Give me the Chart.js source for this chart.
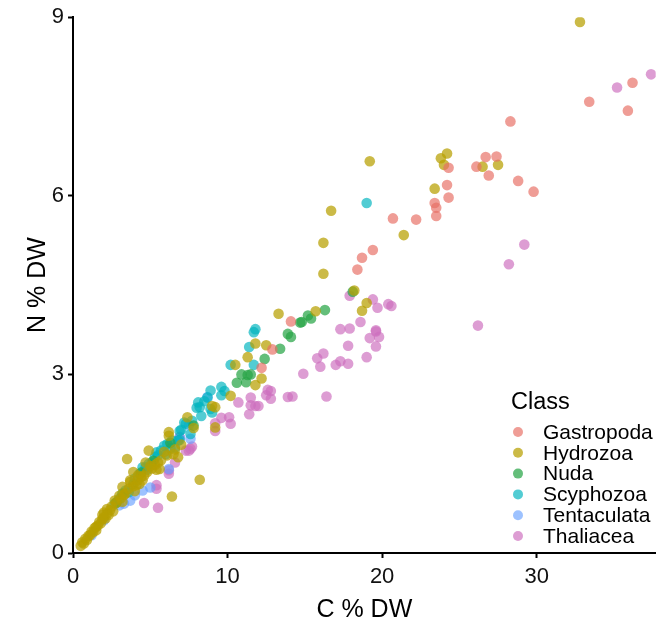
<!DOCTYPE html>
<html>
<head>
<meta charset="utf-8">
<script src="https://cdn.jsdelivr.net/npm/chart.js@4"></script>
<style>
  body { margin: 0; background: #fff; }
  canvas { display: block; }
</style>
</head>
<body>
<canvas id="cnChart" width="661" height="625"></canvas>
<script>
// values (C % DW, N % DW)
const classes = ["Gastropoda", "Hydrozoa", "Nuda", "Scyphozoa", "Tentaculata", "Thaliacea"]

const gastroX = [36.2, 33.4, 35.9, 28.3, 24.3, 26.7, 27.4, 26.1, 26.9, 28.8, 29.8, 24.2, 24.3, 23.4, 23.5, 23.5, 20.7, 22.2, 19.4, 18.7, 18.4, 14.1, 12.9, 12.2]
const gastroY = [7.90, 7.58, 7.43, 7.25, 6.47, 6.65, 6.66, 6.49, 6.34, 6.25, 6.07, 6.18, 5.97, 5.88, 5.80, 5.66, 5.62, 5.60, 5.09, 4.96, 4.76, 3.89, 3.42, 3.11]

const hydroX = [32.8, 19.2, 24.2, 23.8, 24.0, 26.5, 27.5, 23.4, 16.7, 21.4, 16.2, 16.2, 18.2, 19.0, 18.7, 15.7, 13.3, 12.5, 12.2, 11.8, 11.3, 10.5, 11.8, 10.2, 9.2, 9.0, 7.4, 7.8, 9.2, 6.2, 6.2, 4.9, 4.7, 5.5, 5.6, 6.5, 6.8, 8.2, 3.5, 6.4, 4.2, 4.5, 4.1, 3.7, 3.9, 3.2, 3.7,
  0.5, 0.6, 0.7, 0.8, 0.9, 1.0, 1.1, 1.2, 1.3, 1.4, 1.5, 1.6, 1.7, 1.8, 1.9, 2.0, 2.1, 2.2, 2.3, 2.4, 2.2, 2.5, 2.0, 1.9, 2.6, 2.8, 3.1, 3.4, 3.6, 3.9, 4.2, 4.4, 4.8, 5.1, 5.3, 5.7, 6.1, 4.0, 3.2, 1.5,
  2.7, 3.0, 3.3, 4.6, 5.0, 5.4, 5.9, 6.6, 7.0, 4.3]
const hydroY = [8.92, 6.58, 6.71, 6.63, 6.52, 6.49, 6.52, 6.12, 5.75, 5.34, 5.21, 4.69, 4.41, 4.20, 4.07, 4.06, 4.02, 3.49, 2.93, 3.52, 3.29, 3.16, 2.82, 2.64, 2.45, 2.47, 2.28, 2.10, 2.11, 2.03, 1.97, 1.72, 1.52, 1.52, 1.41, 1.66, 1.61, 1.23, 1.58, 0.95, 1.30, 1.22, 1.14, 1.19, 1.36, 1.11, 1.22,
  0.12, 0.18, 0.16, 0.24, 0.22, 0.29, 0.30, 0.36, 0.35, 0.42, 0.44, 0.46, 0.52, 0.50, 0.57, 0.60, 0.58, 0.66, 0.64, 0.72, 0.74, 0.78, 0.68, 0.64, 0.70, 0.84, 0.92, 1.00, 1.08, 1.12, 1.22, 1.28, 1.36, 1.42, 1.48, 1.56, 1.64, 1.04, 0.86, 0.38,
  0.88, 0.96, 0.98, 1.30, 1.46, 1.40, 1.70, 1.74, 1.82, 1.16]

const nudaX = [18.1, 16.3, 15.2, 15.4, 14.7, 14.8, 13.9, 14.1, 13.4, 12.4, 10.9, 11.5, 11.2, 10.6, 11.3, 7.8, 3.2, 5.2, 4.4, 2.8, 6.3]
const nudaY = [4.39, 4.08, 3.99, 3.94, 3.87, 3.88, 3.68, 3.63, 3.43, 3.26, 3.00, 3.00, 2.87, 2.86, 2.99, 2.14, 1.00, 1.55, 1.35, 0.85, 1.85]

const scyphoX = [19.0, 11.8, 11.7, 11.4, 10.2, 11.7, 9.6, 8.9, 9.8, 9.6, 8.7, 8.1, 8.0, 8.9, 9.0, 8.2, 8.3, 7.7, 7.2, 7.0, 6.9, 6.4, 6.1, 5.9, 6.6, 5.4, 5.3, 4.9, 4.5, 6.0, 5.5, 4.7, 4.3, 3.9, 3.4, 3.0, 2.7, 7.3, 6.9, 6.8, 7.6, 8.5,
  4.0, 4.8, 5.1, 5.7, 6.3, 3.6]
const scyphoY = [5.88, 3.76, 3.71, 3.46, 3.16, 3.16, 2.79, 2.73, 2.72, 2.65, 2.61, 2.53, 2.44, 2.42, 2.36, 2.45, 2.30, 2.22, 2.19, 2.07, 1.90, 1.89, 1.83, 1.80, 1.77, 1.69, 1.61, 1.50, 1.44, 1.66, 1.64, 1.44, 1.33, 1.16, 1.05, 0.91, 0.83, 2.17, 2.05, 1.89, 2.00, 2.55,
  1.25, 1.40, 1.52, 1.72, 1.76, 1.02]

const tentaX = [8.7, 6.9, 7.6, 6.2, 3.0, 3.3, 3.7, 4.0, 7.5, 5.0, 2.0, 1.2, 4.5]
const tentaY = [2.62, 1.94, 1.92, 1.41, 0.80, 0.83, 0.88, 0.97, 2.15, 1.10, 0.55, 0.30, 1.05]

const thaliX = [37.4, 35.2, 29.2, 28.2, 26.2, 17.9, 19.4, 19.7, 20.4, 20.6, 18.6, 19.6, 17.3, 17.9, 19.6, 19.2, 19.8, 19.6, 19.0, 17.8, 16.2, 15.8, 16.0, 17.3, 17.0, 17.8, 14.9, 16.4, 13.9, 14.2, 12.6, 12.8, 12.5, 12.8, 12.0, 10.7, 11.5, 11.5, 11.8, 11.4, 9.6, 10.1, 9.2, 9.2, 10.2, 6.9, 7.7, 7.5, 7.3, 7.6, 6.6, 6.2, 5.4, 5.4, 4.6, 5.5, 6.2]
const thaliY = [8.04, 7.82, 5.18, 4.85, 3.82, 4.32, 4.26, 4.12, 4.18, 4.15, 3.88, 3.74, 3.76, 3.77, 3.72, 3.61, 3.63, 3.47, 3.29, 3.48, 3.35, 3.27, 3.13, 3.22, 3.16, 3.18, 3.01, 2.63, 2.62, 2.63, 2.74, 2.72, 2.65, 2.59, 2.47, 2.53, 2.61, 2.48, 2.47, 2.33, 2.27, 2.28, 2.18, 2.05, 2.17, 1.95, 1.79, 1.72, 1.72, 1.75, 1.52, 1.33, 1.14, 1.08, 0.84, 0.76, 1.39]

const xTicks = [0, 10, 20, 30]
const yTicks = [0, 3, 6, 9]

const classColors = [
  "rgba(232,110,100,0.68)",
  "rgba(183,159,0,0.72)",
  "rgba(40,165,70,0.72)",
  "rgba(0,180,190,0.68)",
  "rgba(97,156,255,0.62)",
  "rgba(205,110,190,0.68)"
]

const xs = [gastroX, hydroX, nudaX, scyphoX, tentaX, thaliX]
const ys = [gastroY, hydroY, nudaY, scyphoY, tentaY, thaliY]

const toPoints = (xArr, yArr) => xArr.map((x, i) => ({ x: x, y: yArr[i] }))

const datasets = classes.map((name, i) => ({
  label: name,
  data: toPoints(xs[i], ys[i]),
  backgroundColor: classColors[i],
  borderWidth: 0,
  pointRadius: 5.3,
  pointHoverRadius: 5.3
}))

const fontFamily = "'Liberation Sans', Arial, sans-serif"

// legend drawn inside the plot, bottom right, like the original
const insideLegend = {
  id: "insideLegend",
  afterDatasetsDraw(chart) {
    const ctx = chart.ctx
    ctx.save()
    ctx.fillStyle = "#000"
    ctx.textBaseline = "middle"
    ctx.textAlign = "left"
    ctx.font = "23.5px " + fontFamily
    ctx.fillText("Class", 511, 403)
    ctx.font = "21px " + fontFamily
    classes.forEach((name, i) => {
      const y = 432 + i * 20.8
      ctx.beginPath()
      ctx.fillStyle = classColors[i]
      ctx.arc(518, y, 5, 0, Math.PI * 2)
      ctx.fill()
      ctx.fillStyle = "#000"
      ctx.fillText(name, 543, y + 1)
    })
    ctx.restore()
  }
}

new Chart("cnChart", {
  type: "scatter",
  data: { datasets: datasets },
  options: {
    responsive: false,
    animation: false,
    devicePixelRatio: 1,
    layout: { padding: { top: 14, right: 0, left: 0, bottom: 0 } },
    plugins: {
      legend: { display: false },
      tooltip: { enabled: false }
    },
    scales: {
      x: {
        type: "linear",
        min: 0,
        max: 37.7,
        afterBuildTicks: scale => { scale.ticks = xTicks.map(v => ({ value: v })) },
        afterFit: scale => { scale.height = 72 },
        ticks: { color: "#111", padding: 6, font: { family: fontFamily, size: 22 } },
        grid: { display: true, drawOnChartArea: false, drawTicks: true, tickLength: 5, color: "#000", tickWidth: 2 },
        border: { display: true, color: "#000", width: 2 },
        title: { display: true, text: "C % DW", color: "#000", padding: { top: 2, bottom: 0 }, font: { family: fontFamily, size: 25 } }
      },
      y: {
        type: "linear",
        min: 0,
        max: 9,
        afterBuildTicks: scale => { scale.ticks = yTicks.map(v => ({ value: v })) },
        afterFit: scale => { scale.width = 73 },
        ticks: { color: "#111", padding: 4, font: { family: fontFamily, size: 22 } },
        grid: { display: true, drawOnChartArea: false, drawTicks: true, tickLength: 5, color: "#000", tickWidth: 2 },
        border: { display: true, color: "#000", width: 2 },
        title: { display: true, text: "N % DW", color: "#000", padding: { top: 23, bottom: 0 }, font: { family: fontFamily, size: 25 } }
      }
    }
  },
  plugins: [insideLegend]
})
</script>
</body>
</html>
